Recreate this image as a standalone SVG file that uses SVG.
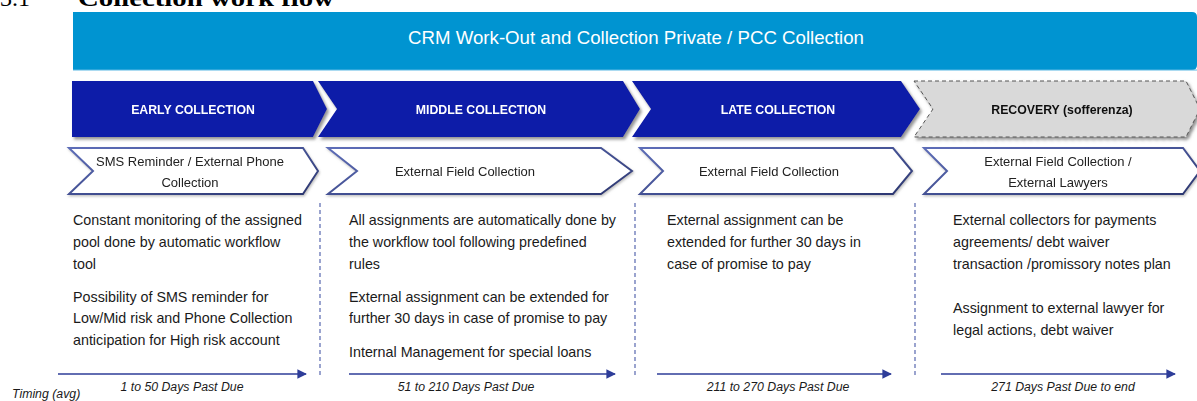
<svg xmlns="http://www.w3.org/2000/svg" width="1197" height="401" viewBox="0 0 1197 401">
<defs>
<style>
.title{font-family:"Liberation Serif",serif;font-weight:bold;font-size:24px;fill:#000}
.banner-t{font-family:"Liberation Sans",Arial,sans-serif;font-size:17.5px;fill:#fff}
.hdr{fill:#0A1AA8}
.hdr-t{font-family:"Liberation Sans",Arial,sans-serif;font-weight:bold;font-size:12.3px;fill:#fff;text-anchor:middle}
.rec{fill:#D9D9D9;stroke:#555;stroke-width:1;stroke-dasharray:4 3}
.rec-t{font-family:"Liberation Sans",Arial,sans-serif;font-weight:bold;font-size:12.3px;fill:#111;text-anchor:middle}
.sub{fill:#fff;stroke:url(#sg);stroke-width:2;stroke-linejoin:miter}
.sub-t{font-family:"Liberation Sans",Arial,sans-serif;font-size:13px;fill:#222;text-anchor:middle}
.body{font-family:"Liberation Sans",Arial,sans-serif;font-size:14.3px;fill:#1a1a1a}
.tim{font-family:"Liberation Sans",Arial,sans-serif;font-style:italic;font-size:12.3px;fill:#1a1a1a;text-anchor:middle}
.sep{stroke:#6573B5;stroke-width:1.3;stroke-dasharray:4 3;fill:none}
.arr{stroke:#2E3D99;stroke-width:1.6;fill:none;marker-end:url(#ah)}
</style>
<linearGradient id="sg" x1="0" y1="0" x2="1" y2="1">
<stop offset="0" stop-color="#5D6DB8"/>
<stop offset="1" stop-color="#2B3670"/>
</linearGradient>
<marker id="ah" viewBox="0 0 10 10" refX="9" refY="5" markerWidth="6" markerHeight="6" markerUnits="strokeWidth" orient="auto">
<path d="M0,0 L10,5 L0,10 z" fill="#2E3D99"/>
</marker>
<filter id="sh" x="-5%" y="-20%" width="110%" height="150%">
<feDropShadow dx="2" dy="2.5" stdDeviation="1.5" flood-color="#777" flood-opacity="0.8"/>
</filter>
<filter id="sh2" x="-5%" y="-20%" width="110%" height="150%">
<feDropShadow dx="1" dy="1.5" stdDeviation="1" flood-color="#999" flood-opacity="0.6"/>
</filter>
</defs>
<rect width="1197" height="401" fill="#fff"/>

<g id="title">
<text class="title" x="0" y="6" style="font-weight:normal">3.1</text>
<text class="title" x="78" y="6" textLength="256" lengthAdjust="spacingAndGlyphs">Collection work flow</text>
</g>

<g id="banner">
<path d="M73,12 H1192 Q1197,12 1197,17 V65 Q1197,70 1192,70 H73 Z" fill="#0094D1"/>
<line x1="73" y1="70" x2="1197" y2="70" stroke="#5BB8E3" stroke-width="1"/>
<text class="banner-t" x="408" y="44" textLength="456" lengthAdjust="spacingAndGlyphs">CRM Work-Out and Collection Private / PCC Collection</text>
</g>

<g id="early" filter="url(#sh)">
<polygon class="hdr" points="72,81 313,81 327,109 313,137 72,137"/>
<text class="hdr-t" x="193" y="114">EARLY COLLECTION</text>
</g>
<g id="middle" filter="url(#sh)">
<polygon class="hdr" points="318,81 623,81 640,109 623,137 318,137 337,109"/>
<text class="hdr-t" x="481" y="114">MIDDLE COLLECTION</text>
</g>
<g id="late" filter="url(#sh)">
<polygon class="hdr" points="632,81 901,81 920,109 901,137 632,137 651,109"/>
<text class="hdr-t" x="778" y="114">LATE COLLECTION</text>
</g>
<g id="recovery" filter="url(#sh)">
<polygon class="rec" points="914,81 1186,81 1200,109 1186,137 914,137 933,109"/>
<text class="rec-t" x="1062" y="114">RECOVERY (sofferenza)</text>
</g>

<g id="early-sub" filter="url(#sh2)">
<polygon class="sub" points="69,148 303,148 318,171 303,194 69,194 93,171"/>
<text class="sub-t" x="190" y="166">SMS Reminder / External Phone</text>
<text class="sub-t" x="190" y="187">Collection</text>
</g>
<g id="middle-sub" filter="url(#sh2)">
<polygon class="sub" points="328,148 601,148 632,171 601,194 328,194 357,171"/>
<text class="sub-t" x="465" y="176">External Field Collection</text>
</g>
<g id="late-sub" filter="url(#sh2)">
<polygon class="sub" points="640,148 893,148 912,171 893,194 640,194 663,171"/>
<text class="sub-t" x="769" y="176">External Field Collection</text>
</g>
<g id="recovery-sub" filter="url(#sh2)">
<polygon class="sub" points="924,148 1183,148 1200,171 1183,194 924,194 947,171"/>
<text class="sub-t" x="1058" y="166">External Field Collection /</text>
<text class="sub-t" x="1058" y="187">External Lawyers</text>
</g>

<g id="early-text">
<text class="body" x="73" y="225">Constant monitoring of the assigned</text>
<text class="body" x="73" y="247">pool done by automatic workflow</text>
<text class="body" x="73" y="269">tool</text>
<text class="body" x="73" y="302">Possibility of SMS reminder for</text>
<text class="body" x="73" y="323">Low/Mid risk and Phone Collection</text>
<text class="body" x="73" y="345">anticipation for High risk account</text>
</g>
<g id="middle-text">
<text class="body" x="349" y="225">All assignments are automatically done by</text>
<text class="body" x="349" y="247">the workflow tool following predefined</text>
<text class="body" x="349" y="269">rules</text>
<text class="body" x="349" y="302">External assignment can be extended  for</text>
<text class="body" x="349" y="323">further 30 days in case of promise to pay</text>
<text class="body" x="349" y="357">Internal Management for special loans</text>
</g>
<g id="late-text">
<text class="body" x="667" y="225">External assignment can be</text>
<text class="body" x="667" y="247">extended  for further 30 days in</text>
<text class="body" x="667" y="269">case of promise to pay</text>
</g>
<g id="recovery-text">
<text class="body" x="953" y="225">External collectors for payments</text>
<text class="body" x="953" y="247">agreements/  debt waiver</text>
<text class="body" x="953" y="269">transaction /promissory notes plan</text>
<text class="body" x="953" y="313">Assignment to external lawyer for</text>
<text class="body" x="953" y="335">legal actions, debt waiver</text>
</g>

<g id="connectors">
<line class="sep" x1="320" y1="203" x2="320" y2="378"/>
<line class="sep" x1="635" y1="203" x2="635" y2="378"/>
<line class="sep" x1="915" y1="203" x2="915" y2="378"/>
<line class="arr" x1="58" y1="374" x2="306" y2="374"/>
<line class="arr" x1="349" y1="374" x2="615" y2="374"/>
<line class="arr" x1="657" y1="374" x2="891" y2="374"/>
<line class="arr" x1="941" y1="374" x2="1175" y2="374"/>
</g>

<g id="timing">
<text class="tim" x="182" y="391">1 to 50 Days Past Due</text>
<text class="tim" x="466" y="391">51 to 210 Days Past Due</text>
<text class="tim" x="778" y="391">211 to 270 Days Past Due</text>
<text class="tim" x="1063" y="391">271 Days Past Due to end</text>
<text class="tim" x="12" y="398" style="text-anchor:start">Timing (avg)</text>
</g>
</svg>
